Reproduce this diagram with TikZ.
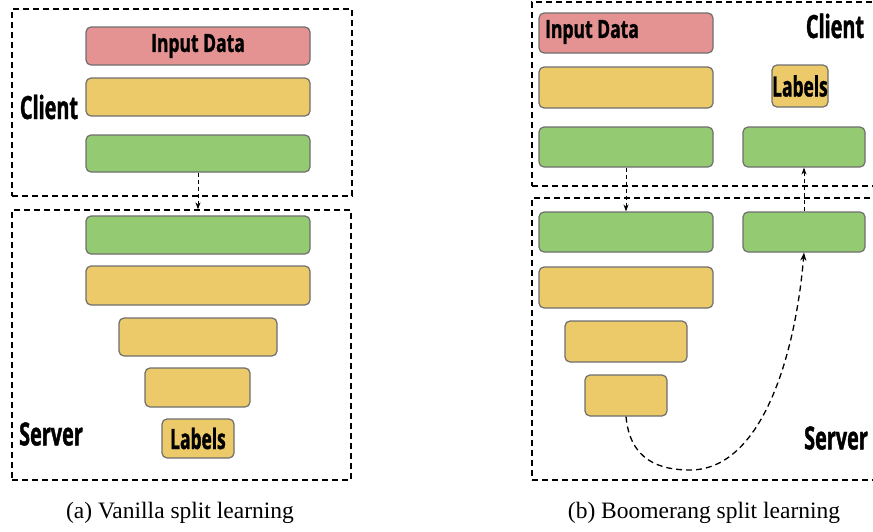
\documentclass[tikz,border=0pt]{standalone}
\usepackage{fontspec}
\setmainfont{Liberation Serif}
\newfontfamily\labfont[FakeStretch=0.70,FakeBold=1.2]{Open Sans}
\newfontfamily\condfont[FakeStretch=0.62,FakeBold=1.2]{Open Sans}
\usetikzlibrary{arrows.meta}
\definecolor{cred}{HTML}{E59292}
\definecolor{cyel}{HTML}{ECCA6A}
\definecolor{cgrn}{HTML}{94CB72}
\definecolor{cbrd}{HTML}{6E6E6E}
\tikzset{
  blk/.style={draw=cbrd, line width=1.2pt, rounded corners=5pt, inner sep=0pt},
  intext/.style={font=\labfont\bfseries\fontsize{25}{25}\selectfont},
  labtext/.style={font=\condfont\bfseries\fontsize{28}{28}\selectfont},
  grp/.style={draw=black, line width=1.3pt, dash pattern=on 6pt off 4pt, inner sep=0pt},
  side/.style={font=\condfont\bfseries\fontsize{32}{32}\selectfont, inner sep=0pt},
  flow/.style={line width=0.9pt, dash pattern=on 4pt off 3pt, -{Stealth[length=7pt,width=5pt]}},
  boom/.style={line width=1.3pt, dash pattern=on 6pt off 4pt, -{Stealth[length=8pt,width=6pt]}},
  captext/.style={font=\fontsize{23.5}{23.5}\selectfont, inner sep=0pt}
}
\newcommand{\blkat}[8]{\node[blk, #8, fill=#6, minimum width={(#4-#2)*1pt}, minimum height={(#5-#3)*1pt}] (#1) at ({(#2+#4)/2},{(#3+#5)/2}) {#7};}
\newcommand{\grpat}[5]{\node[grp, minimum width={(#4-#2)*1pt}, minimum height={(#5-#3)*1pt}] (#1) at ({(#2+#4)/2},{(#3+#5)/2}) {};}
\begin{document}
\begin{tikzpicture}[x=1pt,y=-1pt]
\useasboundingbox (0,0) rectangle (873,531);
\clip (0,0) rectangle (873,531);
% ---------- (a) ----------
\grpat{clientA}{12}{9}{352}{196}
\grpat{serverA}{12}{210}{351}{480}
\blkat{inA}{86}{27}{310}{65}{cred}{Input Data}{intext}
\blkat{y1A}{86}{78}{310}{116}{cyel}{}{}
\blkat{g1A}{86}{135}{310}{172}{cgrn}{}{}
\blkat{g2A}{86}{216}{310}{254}{cgrn}{}{}
\blkat{y2A}{86}{266}{310}{305}{cyel}{}{}
\blkat{y3A}{119}{318}{277}{356}{cyel}{}{}
\blkat{y4A}{145}{368}{250}{407}{cyel}{}{}
\blkat{labA}{162}{419}{234}{458}{cyel}{Labels}{labtext}
\node[side] (clA) at (49,107) {Client};
\node[side] (svA) at (51,434) {Server};
\draw[flow] (g1A.south) -- (g1A.south |- serverA.north);
\node[captext] (capA) at (180,513) {(a) Vanilla split learning};
% ---------- (b) ----------
\grpat{clientB}{532}{2}{890}{186}
\grpat{serverB}{532}{198}{890}{480}
\blkat{inB}{539}{13}{713}{53}{cred}{}{}
\node[anchor=west, inner sep=0pt, intext] (inBt) at (545,32) {Input Data};
\blkat{y1B}{539}{67}{713}{108}{cyel}{}{}
\blkat{g1B}{539}{127}{713}{167}{cgrn}{}{}
\blkat{labB}{772}{65}{828}{107}{cyel}{Labels}{labtext}
\blkat{g3B}{743}{127}{865}{167}{cgrn}{}{}
\blkat{g2B}{539}{212}{713}{252}{cgrn}{}{}
\blkat{g4B}{743}{212}{865}{252}{cgrn}{}{}
\blkat{y2B}{539}{267}{713}{308}{cyel}{}{}
\blkat{y3B}{565}{321}{687}{362}{cyel}{}{}
\blkat{y4B}{585}{375}{667}{416}{cyel}{}{}
\node[side] (clB) at (835,26) {Client};
\node[side] (svB) at (836,438) {Server};
\draw[flow] (g1B.south) -- (g2B.north);
\draw[flow] (g4B.north) -- (g3B.south);
\coordinate (bot) at (690,470);
\draw[boom] (y4B.south) .. controls +(4,44) and (660,470) .. (bot) .. controls (760,470) and (795,360) .. (g4B.south);
\node[captext] (capB) at (704,513) {(b) Boomerang split learning};
\end{tikzpicture}
\end{document}
